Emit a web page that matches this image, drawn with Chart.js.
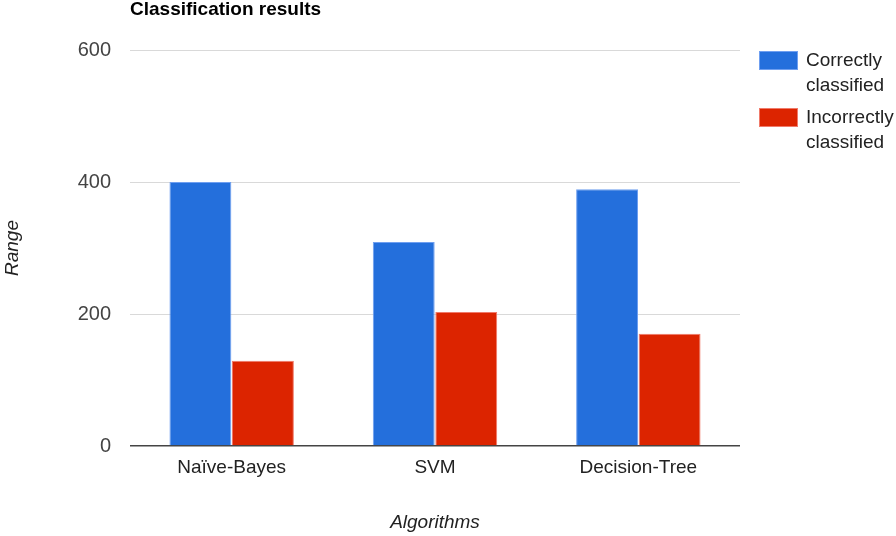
<!DOCTYPE html>
<html>
<head>
<meta charset="utf-8">
<script src="https://cdn.jsdelivr.net/npm/chart.js@4"></script>
<style>
  html, body { margin: 0; padding: 0; background: #fff; }
  #wrap { position: relative; width: 896px; height: 536px; }
  #legend {
    position: absolute; left: 759px; top: 48px;
    font-family: "Liberation Sans", Arial, sans-serif; font-size: 19px; color: #222;
  }
  .item { display: flex; align-items: flex-start; margin-bottom: 8px; }
  .box { width: 39px; height: 19px; margin-top: 3px; box-sizing: border-box; }
  .text { margin-left: 8px; width: 92px; line-height: 24.5px; }
</style>
</head>
<body>
<div id="wrap">
  <canvas id="chart" width="896" height="536"></canvas>
  <div id="legend"></div>
</div>
<script>
// 데이터
const categories = ['Naïve-Bayes', 'SVM', 'Decision-Tree'];
const correct = [400, 309, 389];
const incorrect = [129, 203, 170];
const seriesNames = ['Correctly classified', 'Incorrectly classified'];
const yTicks = [0, 200, 400, 600];

const colors = ['#246fdc', '#dc2400'];
const borders = ['#6f9ff0', '#f07a6a'];
const FONT = '"Liberation Sans", Arial, sans-serif';

// 제목을 차트 영역 왼쪽에 맞춰 그림
const titlePlugin = {
  id: 'leftTitle',
  afterDraw(chart) {
    const ctx = chart.ctx;
    ctx.save();
    ctx.font = 'bold 19px ' + FONT;
    ctx.fillStyle = '#000';
    ctx.textBaseline = 'middle';
    ctx.fillText('Classification results', chart.chartArea.left, 10);
    ctx.restore();
  },
};

const chart = new Chart(document.getElementById('chart'), {
  type: 'bar',
  data: {
    labels: categories,
    datasets: [correct, incorrect].map((d, i) => ({
      label: seriesNames[i],
      data: d,
      backgroundColor: colors[i],
      borderColor: borders[i],
      borderWidth: 1,
      barPercentage: 0.99,
      categoryPercentage: 0.615,
    })),
  },
  options: {
    animation: false,
    responsive: false,
    layout: { padding: { top: 50, right: 156, left: 0, bottom: 0 } },
    plugins: { legend: { display: false }, title: { display: false }, tooltip: { enabled: false } },
    scales: {
      x: {
        grid: { display: false, drawTicks: false },
        border: { display: false },
        ticks: { color: '#222', padding: 10, font: { family: FONT, size: 19 } },
        title: {
          display: true, text: 'Algorithms', color: '#222',
          padding: { top: 0, bottom: 2 },
          font: { family: FONT, size: 19, style: 'italic' },
        },
        afterFit(scale) { scale.height = 90; },
      },
      y: {
        min: 0, max: 600,
        afterBuildTicks(scale) { scale.ticks = yTicks.map((v) => ({ value: v })); },
        grid: {
          drawTicks: false,
          color: (c) => (c.tick && c.tick.value === 0 ? '#444' : '#d9d9d9'),
          lineWidth: (c) => (c.tick && c.tick.value === 0 ? 1.5 : 1),
        },
        border: { display: false },
        ticks: { color: '#444', padding: 19, font: { family: FONT, size: 20 } },
        title: {
          display: true, text: 'Range', color: '#222',
          padding: { top: 1, bottom: 0 },
          font: { family: FONT, size: 19, style: 'italic' },
        },
        afterFit(scale) { scale.width = 130; },
      },
    },
  },
  plugins: [titlePlugin],
});

// 범례 (줄바꿈 때문에 HTML로)
const legend = document.getElementById('legend');
seriesNames.forEach((name, i) => {
  const item = document.createElement('div');
  item.className = 'item';
  item.innerHTML = '<div class="box" style="background:' + colors[i] + ';border:1px solid ' + borders[i] + '"></div><div class="text">' + name + '</div>';
  legend.appendChild(item);
});
</script>
</body>
</html>
